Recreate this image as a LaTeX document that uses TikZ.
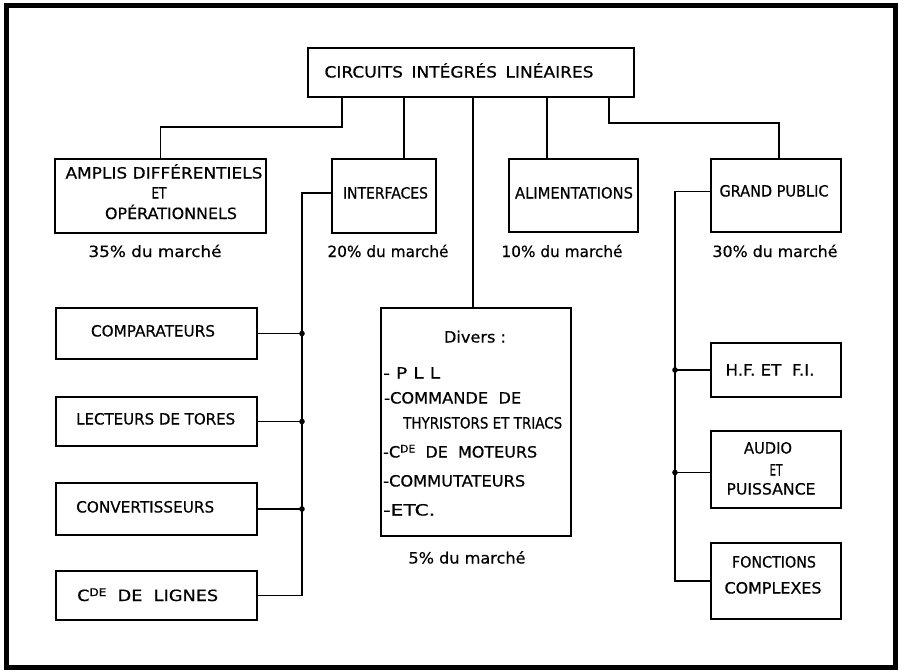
\documentclass[tikz,border=0pt]{standalone}
\usepackage{fontspec}
\setmainfont{DejaVu Sans}
\newfontfamily\fbfam[FakeBold=0.5]{DejaVu Sans}
\usepackage{graphicx}
\newcommand{\tw}[2]{\resizebox{#1pt}{\height}{#2}}
\newcommand{\cdesup}{C\raisebox{5pt}{\fontsize{10.5}{10.5}\selectfont DE}}
\tikzset{
  box/.style={draw, line width=2pt, rectangle, inner sep=0pt},
  conn/.style={line width=1.6pt},
  txt/.style={font=\fbfam\fontsize{15.5}{18}\selectfont, inner sep=0pt, anchor=base},
  ltxt/.style={font=\fbfam\fontsize{15.5}{18}\selectfont, inner sep=0pt, anchor=base west},
  frame/.style={line width=4.5pt}
}
\begin{document}
\begin{tikzpicture}[x=1pt,y=-1pt]
\useasboundingbox (0,0) rectangle (899,670);
\draw[frame] (6.5,5.5) rectangle (895.5,667.5);

% boxes
\node[box, minimum width=326pt, minimum height=49pt] (top) at (471,72.5) {};
\node[box, minimum width=211pt, minimum height=74pt] (amplis) at (160.5,196) {};
\node[box, minimum width=104pt, minimum height=74pt] (interfaces) at (384,196) {};
\node[box, minimum width=129pt, minimum height=73pt] (alim) at (573.5,195.5) {};
\node[box, minimum width=130pt, minimum height=73pt] (gp) at (776,195.5) {};
\node[box, minimum width=190pt, minimum height=228pt] (divers) at (476,422) {};
\node[box, minimum width=201pt, minimum height=51pt] (comp) at (156.5,333.5) {};
\node[box, minimum width=201pt, minimum height=49pt] (lect) at (156.5,421.5) {};
\node[box, minimum width=201pt, minimum height=52pt] (conv) at (156.5,509) {};
\node[box, minimum width=201pt, minimum height=49pt] (cde) at (156.5,595.5) {};
\node[box, minimum width=130pt, minimum height=54pt] (hf) at (776,370) {};
\node[box, minimum width=130pt, minimum height=77pt] (audio) at (776,469.5) {};
\node[box, minimum width=130pt, minimum height=76pt] (fonc) at (776,581) {};

% texts
\node[txt] (ttop) at (459,77.5) {\tw{269}{CIRCUITS\enspace INTÉGRÉS\enspace LINÉAIRES}};
\node[txt] (ta1) at (164,178.5) {\tw{197}{AMPLIS DIFFÉRENTIELS}};
\node[txt] (ta2) at (159,198.5) {\tw{15}{ET}};
\node[txt] (ta3) at (171,219) {\tw{132}{OPÉRATIONNELS}};
\node[txt] (tint) at (385.5,198.5) {\tw{85}{INTERFACES}};
\node[txt] (talim) at (574,198.5) {\tw{118}{ALIMENTATIONS}};
\node[txt] (tgp) at (774,196.5) {\tw{109}{GRAND PUBLIC}};

\node[txt] (p1) at (155,257) {\tw{133}{35\% du marché}};
\node[txt] (p2) at (388,257) {\tw{121}{20\% du marché}};
\node[txt] (p3) at (562,257) {\tw{121}{10\% du marché}};
\node[txt] (p4) at (775,257) {\tw{125}{30\% du marché}};
\node[txt] (p5) at (467,563.5) {\tw{117}{5\% du marché}};

\node[txt] (tcomp) at (153,336.5) {\tw{124}{COMPARATEURS}};
\node[ltxt] (tlect) at (76,424.5) {\tw{159}{LECTEURS DE TORES}};
\node[ltxt] (tconv) at (76,512.5) {\tw{138}{CONVERTISSEURS}};
\node[ltxt] (tcde) at (77,601) {\tw{141}{\cdesup\ \ DE\ \ LIGNES}};

\node[txt] (d0) at (475,342.5) {\tw{62}{Divers :}};
\node[ltxt] (d1) at (383,378.5) {\tw{57}{-\ P\ L\ L}};
\node[ltxt] (d2) at (384,403.5) {\tw{137}{-COMMANDE\ \ DE}};
\node[ltxt] (d3) at (403,428.5) {\tw{159}{THYRISTORS ET TRIACS}};
\node[ltxt] (d4) at (383,457.5) {\tw{154}{-\cdesup\ \ DE\ \ MOTEURS}};
\node[ltxt] (d5) at (383,486.5) {\tw{142}{-COMMUTATEURS}};
\node[ltxt] (d6) at (383,515.5) {\tw{52}{-ETC.}};

\node[txt] (thf) at (770,375.5) {\tw{89}{H.F.\ ET\ \ F.I.}};
\node[txt] (tau1) at (768,453.5) {\tw{48}{AUDIO}};
\node[txt] (tau2) at (776,475.5) {\tw{13}{ET}};
\node[txt] (tau3) at (771,494.5) {\tw{89}{PUISSANCE}};
\node[txt] (tf1) at (774,567.5) {\tw{84}{FONCTIONS}};
\node[txt] (tf2) at (773,593.5) {\tw{97}{COMPLEXES}};

% connector helper coordinates
\coordinate (xa) at (342,0);
\coordinate (xb) at (404,0);
\coordinate (xc) at (473,0);
\coordinate (xd) at (547,0);
\coordinate (xe) at (609,0);
\coordinate (xf) at (779,0);
\coordinate (j1) at (0,127);
\coordinate (j2) at (0,123);
\coordinate (xl) at (302,0);
\coordinate (xr) at (675,0);

% top connectors
\draw[conn] (top.south -| xa) |- (j1 -| amplis.north) -- (amplis.north);
\draw[conn] (top.south -| xb) -- (interfaces.north -| xb);
\draw[conn] (top.south -| xc) -- (divers.north -| xc);
\draw[conn] (top.south -| xd) -- (alim.north -| xd);
\draw[conn] (top.south -| xe) |- (j2 -| xf) -- (gp.north -| xf);

% left bus
\draw[conn] ([yshift=3pt]interfaces.west) -| (cde.east -| xl) -- (cde.east);
\draw[conn] (comp.east) -- (comp.east -| xl);
\draw[conn] (lect.east) -- (lect.east -| xl);
\draw[conn] (conv.east) -- (conv.east -| xl);
\fill (comp.east -| xl) circle (2.8pt);
\fill (lect.east -| xl) circle (2.8pt);
\fill (conv.east -| xl) circle (2.8pt);

% right bus
\draw[conn] ([yshift=4pt]gp.west) -| (fonc.west -| xr) -- (fonc.west);
\draw[conn] (hf.west) -- (hf.west -| xr);
\draw[conn] ([yshift=-3pt]audio.west) -- ([yshift=-3pt]audio.west -| xr);
\fill (hf.west -| xr) circle (2.8pt);
\fill ([yshift=-3pt]audio.west -| xr) circle (2.8pt);
\end{tikzpicture}
\end{document}
